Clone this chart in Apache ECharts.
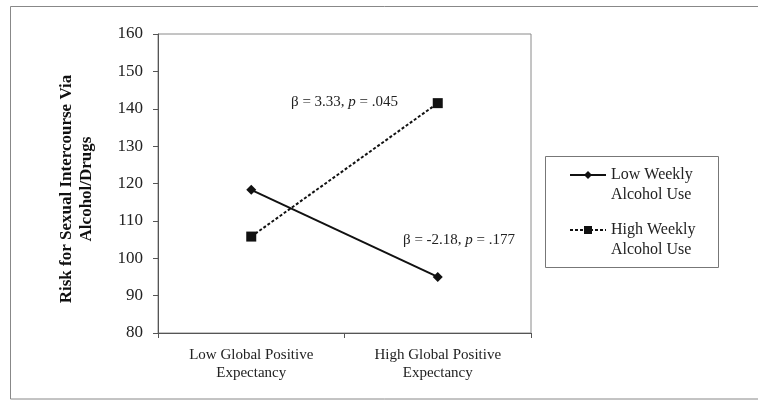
<!DOCTYPE html>
<html>
<head>
<meta charset="utf-8">
<script src="https://cdn.jsdelivr.net/npm/echarts@6/dist/echarts.min.js"></script>
<style>html,body{margin:0;padding:0;background:#fff}#c{width:758px;height:401px}</style>
</head>
<body>
<div id="c"></div>
<script>
var categories = ['Low Global Positive\nExpectancy', 'High Global Positive\nExpectancy'];
var lowWeekly = [118.3, 95.0];
var highWeekly = [105.8, 141.5];
var seriesNames = ['Low Weekly\nAlcohol Use', 'High Weekly\nAlcohol Use'];
var yAxisTitle = ['Risk for Sexual Intercourse Via', 'Alcohol/Drugs'];
var annotations = [
  {beta: '3.33', p: '.045'},
  {beta: '-2.18', p: '.177'}
];

var FONT = '"Liberation Serif", "Times New Roman", serif';
var chart = echarts.init(document.getElementById('c'));

function annText(a) {
  return '{a|\u03B2 = ' + a.beta + ', }{i|p}{a| = ' + a.p + '}';
}
var annRich = {
  a: {fontFamily: FONT, fontSize: 15, fill: '#222'},
  i: {fontFamily: FONT, fontSize: 15, fontStyle: 'italic', fill: '#222'}
};

chart.setOption({
  animation: false,
  backgroundColor: '#fff',
  grid: {left: 158, top: 34, right: 227, bottom: 68, show: true, borderColor: '#8a8a8a', borderWidth: 1},
  xAxis: {
    type: 'category',
    data: categories,
    boundaryGap: true,
    axisLine: {lineStyle: {color: '#555', width: 1}},
    axisTick: {show: true, length: 5, inside: false, lineStyle: {color: '#555'}},
    axisLabel: {fontFamily: FONT, fontSize: 15, color: '#222', margin: 13, lineHeight: 18, interval: 0}
  },
  yAxis: {
    type: 'value',
    min: 80, max: 160, interval: 10,
    axisLine: {show: true, lineStyle: {color: '#555', width: 1}},
    axisTick: {show: true, length: 5, lineStyle: {color: '#555'}},
    axisLabel: {fontFamily: FONT, fontSize: 17, color: '#222', margin: 15},
    splitLine: {show: false}
  },
  legend: {
    orient: 'vertical',
    left: 569, top: 145,
    padding: 0,
    itemGap: -5,
    itemWidth: 36, itemHeight: 10,
    formatter: function (name) { return ' \n' + name; },
    textStyle: {fontFamily: FONT, fontSize: 16, color: '#222', lineHeight: 20},
    data: seriesNames
  },
  series: [
    {
      name: seriesNames[0], type: 'line', data: lowWeekly,
      symbol: 'diamond', symbolSize: 10,
      lineStyle: {color: '#111', width: 2, type: 'solid'},
      itemStyle: {color: '#111'}
    },
    {
      name: seriesNames[1], type: 'line', data: highWeekly,
      symbol: 'rect', symbolSize: 10,
      lineStyle: {color: '#111', width: 2, type: [3, 2]},
      itemStyle: {color: '#111'}
    }
  ],
  graphic: [
    {type: 'rect', shape: {x: 10.5, y: 6.5, width: 760, height: 392.5}, style: {fill: 'none', stroke: '#888', lineWidth: 1}, silent: true, z: -1},
    {type: 'rect', shape: {x: 545.5, y: 156.5, width: 173, height: 111}, style: {fill: 'none', stroke: '#777', lineWidth: 1}, silent: true},
    {type: 'text', x: 67, y: 189, rotation: Math.PI / 2, style: {text: yAxisTitle[0], fontFamily: FONT, fontSize: 17, fontWeight: 'bold', fill: '#111', align: 'center', verticalAlign: 'middle'}},
    {type: 'text', x: 87, y: 189, rotation: Math.PI / 2, style: {text: yAxisTitle[1], fontFamily: FONT, fontSize: 17, fontWeight: 'bold', fill: '#111', align: 'center', verticalAlign: 'middle'}},
    {type: 'text', x: 291, y: 102, style: {text: annText(annotations[0]), rich: annRich, verticalAlign: 'middle', align: 'left'}},
    {type: 'text', x: 403, y: 240, style: {text: annText(annotations[1]), rich: annRich, verticalAlign: 'middle', align: 'left'}}
  ]
});
</script>
</body>
</html>
